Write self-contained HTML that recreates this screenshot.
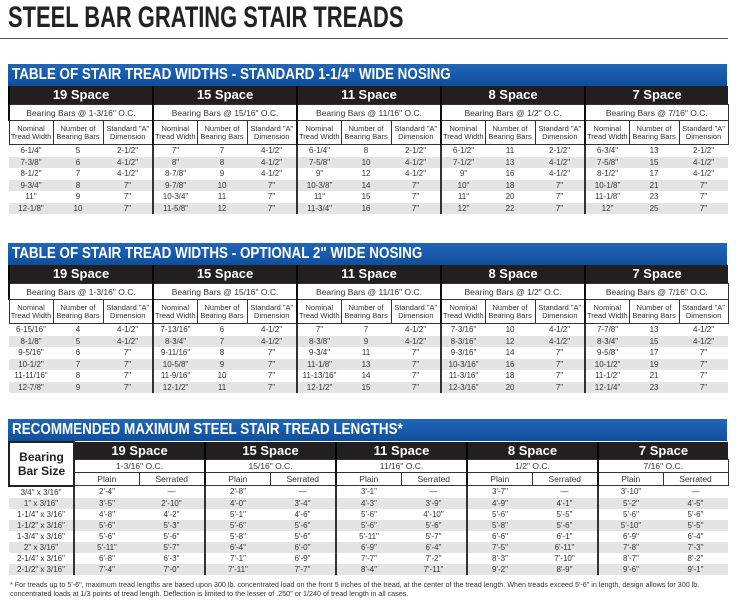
<!DOCTYPE html>
<html><head><meta charset="utf-8"><style>
body{margin:0;width:743px;height:612px;background:#fff;overflow:hidden;font-family:"Liberation Sans Narrow","Liberation Sans",sans-serif;color:#222;position:relative}
.title{position:absolute;left:8px;top:1px;font-size:30px;font-weight:bold;color:#222;transform:scaleX(0.73);transform-origin:left;white-space:nowrap}
.rule{position:absolute;left:0;top:38px;width:728px;height:1px;background:#555}
.blk{position:absolute;left:8px;width:719px}
.blue{height:22px;background:linear-gradient(#2166b8,#0f4f9c);color:#fff;font-weight:bold;font-size:16px;line-height:22px;padding-left:4px;box-sizing:border-box;white-space:nowrap}
.blue span{display:inline-block;transform:scaleX(0.84);transform-origin:left}
table{border-collapse:collapse;table-layout:fixed;width:719px}
td{padding:0;text-align:center;overflow:hidden;white-space:nowrap}
.dk td{background:#231f20;color:#fff;font-weight:bold;font-size:13px;height:18px;line-height:18px;border-left:2px solid #000}
.bb td{font-size:8.5px;height:15px;line-height:14px;border:1px solid #333;border-left:2px solid #111;color:#333}
.t3 .bb td{height:12px;line-height:11px}
.t3 .dk td{height:17px;line-height:17px}
.t3 .r td{height:11px;line-height:11px}
.hd td{font-size:7.5px;line-height:8px;height:23px;border:1px solid #333;color:#333}
.hd td.g,.r td.g{border-left:2px solid #111}
.r td{font-size:8px;height:11.5px;line-height:11px;color:#333}
.r:nth-child(even) td{background:#e4e4e4}
.r td.g{border-left:2px solid #333}
.note{position:absolute;left:10px;top:580px;font-size:7.4px;line-height:9px;color:#333;white-space:nowrap;transform:scaleX(0.97);transform-origin:left}
</style></head><body>
<div class="title">STEEL BAR GRATING STAIR TREADS</div>
<div class="rule"></div>

<div class="blk" style="top:64px">
<div class="blue"><span>TABLE OF STAIR TREAD WIDTHS - STANDARD 1-1/4" WIDE NOSING</span></div>
<table>
<colgroup><col style="width:44px"><col style="width:50px"><col style="width:50px"><col style="width:44px"><col style="width:50px"><col style="width:50px"><col style="width:44px"><col style="width:50px"><col style="width:50px"><col style="width:44px"><col style="width:50px"><col style="width:50px"><col style="width:44px"><col style="width:50px"><col style="width:49px"></colgroup>
<tr class="dk"><td colspan="3">19 Space</td><td colspan="3">15 Space</td><td colspan="3">11 Space</td><td colspan="3">8 Space</td><td colspan="3">7 Space</td></tr>
<tr class="bb"><td colspan="3">Bearing Bars @ 1-3/16" O.C.</td><td colspan="3">Bearing Bars @ 15/16" O.C.</td><td colspan="3">Bearing Bars @ 11/16" O.C.</td><td colspan="3">Bearing Bars @ 1/2" O.C.</td><td colspan="3">Bearing Bars @ 7/16" O.C.</td></tr>
<tr class="hd"><td>Nominal<br>Tread Width</td><td>Number of<br>Bearing Bars</td><td>Standard "A"<br>Dimension</td><td class="g">Nominal<br>Tread Width</td><td>Number of<br>Bearing Bars</td><td>Standard "A"<br>Dimension</td><td class="g">Nominal<br>Tread Width</td><td>Number of<br>Bearing Bars</td><td>Standard "A"<br>Dimension</td><td class="g">Nominal<br>Tread Width</td><td>Number of<br>Bearing Bars</td><td>Standard "A"<br>Dimension</td><td class="g">Nominal<br>Tread Width</td><td>Number of<br>Bearing Bars</td><td>Standard "A"<br>Dimension</td></tr>
<tbody>
<tr class="r"><td>6-1/4"</td><td>5</td><td>2-1/2"</td><td class="g">7"</td><td>7</td><td>4-1/2"</td><td class="g">6-1/4"</td><td>8</td><td>2-1/2"</td><td class="g">6-1/2"</td><td>11</td><td>2-1/2"</td><td class="g">6-3/4"</td><td>13</td><td>2-1/2"</td></tr>
<tr class="r"><td>7-3/8"</td><td>6</td><td>4-1/2"</td><td class="g">8"</td><td>8</td><td>4-1/2"</td><td class="g">7-5/8"</td><td>10</td><td>4-1/2"</td><td class="g">7-1/2"</td><td>13</td><td>4-1/2"</td><td class="g">7-5/8"</td><td>15</td><td>4-1/2"</td></tr>
<tr class="r"><td>8-1/2"</td><td>7</td><td>4-1/2"</td><td class="g">8-7/8"</td><td>9</td><td>4-1/2"</td><td class="g">9"</td><td>12</td><td>4-1/2"</td><td class="g">9"</td><td>16</td><td>4-1/2"</td><td class="g">8-1/2"</td><td>17</td><td>4-1/2"</td></tr>
<tr class="r"><td>9-3/4"</td><td>8</td><td>7"</td><td class="g">9-7/8"</td><td>10</td><td>7"</td><td class="g">10-3/8"</td><td>14</td><td>7"</td><td class="g">10"</td><td>18</td><td>7"</td><td class="g">10-1/8"</td><td>21</td><td>7"</td></tr>
<tr class="r"><td>11"</td><td>9</td><td>7"</td><td class="g">10-3/4"</td><td>11</td><td>7"</td><td class="g">11"</td><td>15</td><td>7"</td><td class="g">11"</td><td>20</td><td>7"</td><td class="g">11-1/8"</td><td>23</td><td>7"</td></tr>
<tr class="r"><td>12-1/8"</td><td>10</td><td>7"</td><td class="g">11-5/8"</td><td>12</td><td>7"</td><td class="g">11-3/4"</td><td>16</td><td>7"</td><td class="g">12"</td><td>22</td><td>7"</td><td class="g">12"</td><td>25</td><td>7"</td></tr>
</tbody></table></div>

<div class="blk" style="top:243px">
<div class="blue"><span>TABLE OF STAIR TREAD WIDTHS - OPTIONAL 2" WIDE NOSING</span></div>
<table>
<colgroup><col style="width:44px"><col style="width:50px"><col style="width:50px"><col style="width:44px"><col style="width:50px"><col style="width:50px"><col style="width:44px"><col style="width:50px"><col style="width:50px"><col style="width:44px"><col style="width:50px"><col style="width:50px"><col style="width:44px"><col style="width:50px"><col style="width:49px"></colgroup>
<tr class="dk"><td colspan="3">19 Space</td><td colspan="3">15 Space</td><td colspan="3">11 Space</td><td colspan="3">8 Space</td><td colspan="3">7 Space</td></tr>
<tr class="bb"><td colspan="3">Bearing Bars @ 1-3/16" O.C.</td><td colspan="3">Bearing Bars @ 15/16" O.C.</td><td colspan="3">Bearing Bars @ 11/16" O.C.</td><td colspan="3">Bearing Bars @ 1/2" O.C.</td><td colspan="3">Bearing Bars @ 7/16" O.C.</td></tr>
<tr class="hd"><td>Nominal<br>Tread Width</td><td>Number of<br>Bearing Bars</td><td>Standard "A"<br>Dimension</td><td class="g">Nominal<br>Tread Width</td><td>Number of<br>Bearing Bars</td><td>Standard "A"<br>Dimension</td><td class="g">Nominal<br>Tread Width</td><td>Number of<br>Bearing Bars</td><td>Standard "A"<br>Dimension</td><td class="g">Nominal<br>Tread Width</td><td>Number of<br>Bearing Bars</td><td>Standard "A"<br>Dimension</td><td class="g">Nominal<br>Tread Width</td><td>Number of<br>Bearing Bars</td><td>Standard "A"<br>Dimension</td></tr>
<tbody>
<tr class="r"><td>6-15/16"</td><td>4</td><td>4-1/2"</td><td class="g">7-13/16"</td><td>6</td><td>4-1/2"</td><td class="g">7"</td><td>7</td><td>4-1/2"</td><td class="g">7-3/16"</td><td>10</td><td>4-1/2"</td><td class="g">7-7/8"</td><td>13</td><td>4-1/2"</td></tr>
<tr class="r"><td>8-1/8"</td><td>5</td><td>4-1/2"</td><td class="g">8-3/4"</td><td>7</td><td>4-1/2"</td><td class="g">8-3/8"</td><td>9</td><td>4-1/2"</td><td class="g">8-3/16"</td><td>12</td><td>4-1/2"</td><td class="g">8-3/4"</td><td>15</td><td>4-1/2"</td></tr>
<tr class="r"><td>9-5/16"</td><td>6</td><td>7"</td><td class="g">9-11/16"</td><td>8</td><td>7"</td><td class="g">9-3/4"</td><td>11</td><td>7"</td><td class="g">9-3/16"</td><td>14</td><td>7"</td><td class="g">9-5/8"</td><td>17</td><td>7"</td></tr>
<tr class="r"><td>10-1/2"</td><td>7</td><td>7"</td><td class="g">10-5/8"</td><td>9</td><td>7"</td><td class="g">11-1/8"</td><td>13</td><td>7"</td><td class="g">10-3/16"</td><td>16</td><td>7"</td><td class="g">10-1/2"</td><td>19</td><td>7"</td></tr>
<tr class="r"><td>11-11/16"</td><td>8</td><td>7"</td><td class="g">11-9/16"</td><td>10</td><td>7"</td><td class="g">11-13/16"</td><td>14</td><td>7"</td><td class="g">11-3/16"</td><td>18</td><td>7"</td><td class="g">11-1/2"</td><td>21</td><td>7"</td></tr>
<tr class="r"><td>12-7/8"</td><td>9</td><td>7"</td><td class="g">12-1/2"</td><td>11</td><td>7"</td><td class="g">12-1/2"</td><td>15</td><td>7"</td><td class="g">12-3/16"</td><td>20</td><td>7"</td><td class="g">12-1/4"</td><td>23</td><td>7"</td></tr>
</tbody></table></div>

<div class="blk" style="top:419px">
<div class="blue"><span>RECOMMENDED MAXIMUM STEEL STAIR TREAD LENGTHS*</span></div>
<table class="t3">
<colgroup><col style="width:65px"><col style="width:65px"><col style="width:66px"><col style="width:65px"><col style="width:66px"><col style="width:65px"><col style="width:66px"><col style="width:65px"><col style="width:66px"><col style="width:65px"><col style="width:65px"></colgroup>
<tr class="dk"><td rowspan="3" style="background:#fff;color:#222;border:2px solid #222;font-size:12px;line-height:14px">Bearing<br>Bar Size</td><td colspan="2">19 Space</td><td colspan="2">15 Space</td><td colspan="2">11 Space</td><td colspan="2">8 Space</td><td colspan="2">7 Space</td></tr>
<tr class="bb"><td colspan="2">1-3/16" O.C.</td><td colspan="2">15/16" O.C.</td><td colspan="2">11/16" O.C.</td><td colspan="2">1/2" O.C.</td><td colspan="2">7/16" O.C.</td></tr>
<tr class="bb"><td>Plain</td><td style="border-left:1px solid #333">Serrated</td><td>Plain</td><td style="border-left:1px solid #333">Serrated</td><td>Plain</td><td style="border-left:1px solid #333">Serrated</td><td>Plain</td><td style="border-left:1px solid #333">Serrated</td><td>Plain</td><td style="border-left:1px solid #333">Serrated</td></tr>
<tbody>
<tr class="r"><td>3/4" x 3/16"</td><td class="g">2'-4"</td><td>—</td><td class="g">2'-8"</td><td>—</td><td class="g">3'-1"</td><td>—</td><td class="g">3'-7"</td><td>—</td><td class="g">3'-10"</td><td>—</td></tr>
<tr class="r"><td>1" x 3/16"</td><td class="g">3'-5"</td><td>2'-10"</td><td class="g">4'-0"</td><td>3'-4"</td><td class="g">4'-3"</td><td>3'-9"</td><td class="g">4'-9"</td><td>4'-1"</td><td class="g">5'-2"</td><td>4'-5"</td></tr>
<tr class="r"><td>1-1/4" x 3/16"</td><td class="g">4'-8"</td><td>4'-2"</td><td class="g">5'-1"</td><td>4'-6"</td><td class="g">5'-6"</td><td>4'-10"</td><td class="g">5'-6"</td><td>5'-5"</td><td class="g">5'-6"</td><td>5'-6"</td></tr>
<tr class="r"><td>1-1/2" x 3/16"</td><td class="g">5'-6"</td><td>5'-3"</td><td class="g">5'-6"</td><td>5'-6"</td><td class="g">5'-6"</td><td>5'-6"</td><td class="g">5'-8"</td><td>5'-6"</td><td class="g">5'-10"</td><td>5'-5"</td></tr>
<tr class="r"><td>1-3/4" x 3/16"</td><td class="g">5'-6"</td><td>5'-6"</td><td class="g">5'-8"</td><td>5'-6"</td><td class="g">5'-11"</td><td>5'-7"</td><td class="g">6'-6"</td><td>6'-1"</td><td class="g">6'-9"</td><td>6'-4"</td></tr>
<tr class="r"><td>2" x 3/16"</td><td class="g">5'-11"</td><td>5'-7"</td><td class="g">6'-4"</td><td>6'-0"</td><td class="g">6'-9"</td><td>6'-4"</td><td class="g">7'-5"</td><td>6'-11"</td><td class="g">7'-8"</td><td>7'-3"</td></tr>
<tr class="r"><td>2-1/4" x 3/16"</td><td class="g">6'-8"</td><td>6'-3"</td><td class="g">7'-1"</td><td>6'-9"</td><td class="g">7'-7"</td><td>7'-2"</td><td class="g">8'-3"</td><td>7'-10"</td><td class="g">8'-7"</td><td>8'-2"</td></tr>
<tr class="r"><td>2-1/2" x 3/16"</td><td class="g">7'-4"</td><td>7'-0"</td><td class="g">7'-11"</td><td>7'-7"</td><td class="g">8'-4"</td><td>7'-11"</td><td class="g">9'-2"</td><td>8'-9"</td><td class="g">9'-6"</td><td>9'-1"</td></tr>
</tbody></table></div>

<div class="note">* For treads up to 5'-6", maximum tread lengths are based upon 300 lb. concentrated load on the front 5 inches of the tread, at the center of the tread length. When treads exceed 5'-6" in length, design allows for 300 lb.<br>concentrated loads at 1/3 points of tread length. Deflection is limited to the lesser of .250" or 1/240 of tread length in all cases.</div>
</body></html>
